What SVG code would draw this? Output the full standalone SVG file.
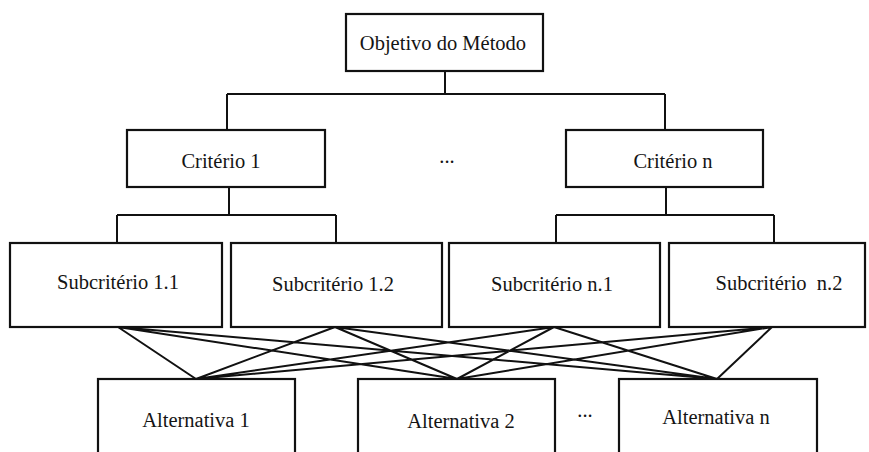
<svg xmlns="http://www.w3.org/2000/svg" width="869" height="452" viewBox="0 0 869 452">
<style>
.box{fill:#fff;stroke:#111;stroke-width:2.2}
.lbl{font-family:"Liberation Serif","Times New Roman",serif;font-size:20.5px;fill:#141414;text-anchor:middle}
.con{fill:none;stroke:#111;stroke-width:2}
</style>
<rect width="869" height="452" fill="#fff"/>
<g id="connectors">
<path class="con" d="M445,71 V94 M227,94 H665 M227,94 V130 M665,94 V130"/>
<path class="con" d="M229,187 V215 M117,215 H336 M117,215 V243 M336,215 V243"/>
<path class="con" d="M666,187 V215 M556,215 H774 M556,215 V243 M774,215 V243"/>
<path class="con" d="M118,327 L196,379 M118,327 L457,379 M118,327 L717,379 M335,327 L196,379 M335,327 L457,379 M335,327 L717,379 M554,327 L196,379 M554,327 L457,379 M554,327 L717,379 M772,327 L196,379 M772,327 L457,379 M772,327 L717,379"/>
</g>
<g id="objetivo">
<rect class="box" x="346" y="14" width="197" height="57"/>
<text class="lbl" x="443" y="50">Objetivo do Método</text>
</g>
<g id="criterio1">
<rect class="box" x="127" y="130" width="198" height="57"/>
<text class="lbl" x="221" y="168">Critério 1</text>
</g>
<g id="dots-criterios">
<text class="lbl" x="447" y="163">...</text>
</g>
<g id="criterion">
<rect class="box" x="566" y="130" width="197" height="57"/>
<text class="lbl" x="673" y="168">Critério n</text>
</g>
<g id="sub11">
<rect class="box" x="10" y="243" width="212" height="84"/>
<text class="lbl" x="118" y="289">Subcritério 1.1</text>
</g>
<g id="sub12">
<rect class="box" x="231" y="243" width="211" height="84"/>
<text class="lbl" x="333" y="291">Subcritério 1.2</text>
</g>
<g id="subn1">
<rect class="box" x="449" y="243" width="211" height="84"/>
<text class="lbl" x="552" y="291">Subcritério n.1</text>
</g>
<g id="subn2">
<rect class="box" x="669" y="243" width="196" height="84"/>
<text class="lbl" x="779" y="290" xml:space="preserve">Subcritério  n.2</text>
</g>
<g id="alt1">
<rect class="box" x="98" y="379" width="197" height="80"/>
<text class="lbl" x="196" y="427">Alternativa 1</text>
</g>
<g id="alt2">
<rect class="box" x="358" y="379" width="197" height="80"/>
<text class="lbl" x="461" y="428">Alternativa 2</text>
</g>
<g id="dots-alternativas">
<text class="lbl" x="585" y="417">...</text>
</g>
<g id="altn">
<rect class="box" x="619" y="379" width="198" height="80"/>
<text class="lbl" x="716" y="424">Alternativa n</text>
</g>
</svg>
